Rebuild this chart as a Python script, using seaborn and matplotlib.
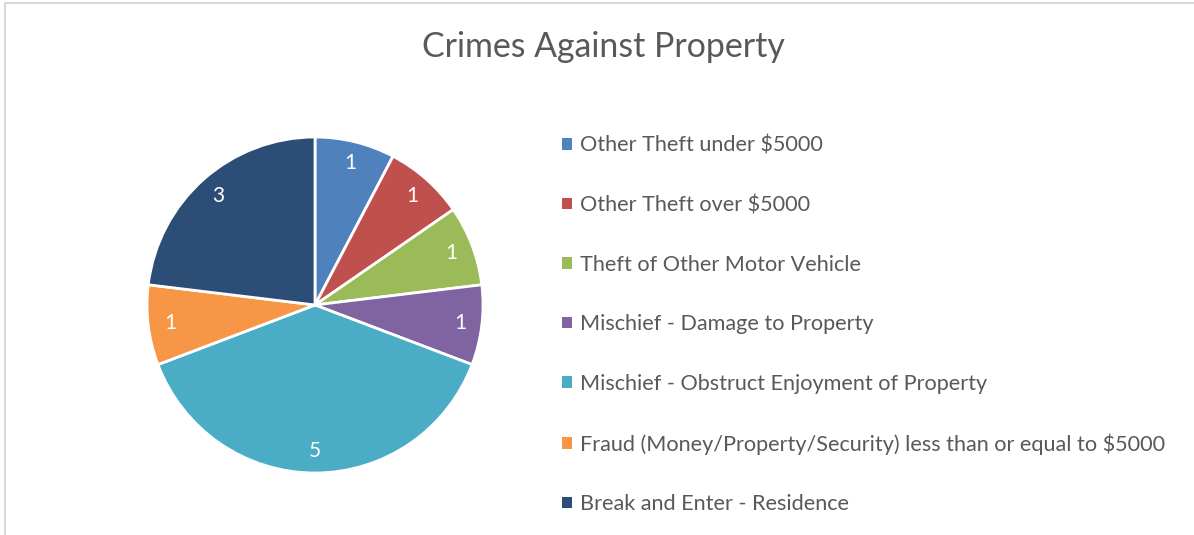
import matplotlib
matplotlib.use("Agg")
import matplotlib.pyplot as plt
import seaborn as sns
from matplotlib.patches import Patch, Rectangle

# Données
categories = [
    "Other Theft under $5000",
    "Other Theft over $5000",
    "Theft of Other Motor Vehicle",
    "Mischief - Damage to Property",
    "Mischief - Obstruct Enjoyment of Property",
    "Fraud (Money/Property/Security) less than or equal to $5000",
    "Break and Enter - Residence",
]
counts = [1, 1, 1, 1, 5, 1, 3]
colors = ["#4F81BD", "#C0504D", "#9BBB59", "#8064A2", "#4BACC6", "#F79646", "#2C4D75"]

sns.set_style("white")
plt.rcParams["font.family"] = ["Lato", "DejaVu Sans"]
text_color = "#595959"

fig = plt.figure(figsize=(11.94, 5.35), dpi=100)

# cadre gris autour du graphique
fig.patches.append(Rectangle((5 / 1194, -0.1), 1.2, 1.1 - 3 / 535, transform=fig.transFigure,
                             fill=False, edgecolor="#d9d9d9", linewidth=1.5))

# Camembert : centre ~ (315, 305) px, rayon ~ 168 px
r = 168
ax = fig.add_axes([(315 - r) / 1194, (535 - 305 - r) / 535, 2 * r / 1194, 2 * r / 535])
wedges, texts = ax.pie(
    counts, colors=colors, startangle=90, counterclock=False,
    labels=[str(c) for c in counts], labeldistance=0.87,
    textprops=dict(color="white", fontsize=15, ha="center", va="center"),
    wedgeprops=dict(edgecolor="white", linewidth=2),
)
ax.set_xlim(-1, 1)
ax.set_ylim(-1, 1)
ax.set_aspect("equal")

fig.text(603 / 1194, 1 - 47 / 535, "Crimes Against Property", ha="center", va="center",
         fontsize=24.4, color=text_color)

handles = [Patch(facecolor=c, edgecolor="none") for c in colors]
leg = fig.legend(handles, categories, loc="center left", bbox_to_anchor=(562 / 1194, 1 - 325 / 535),
                 frameon=False, fontsize=15.6, labelspacing=1.82, handlelength=0.45, handleheight=0.45,
                 handletextpad=0.4, borderpad=0, borderaxespad=0)
for t in leg.get_texts():
    t.set_color(text_color)

fig.savefig("out.png", dpi=100)
